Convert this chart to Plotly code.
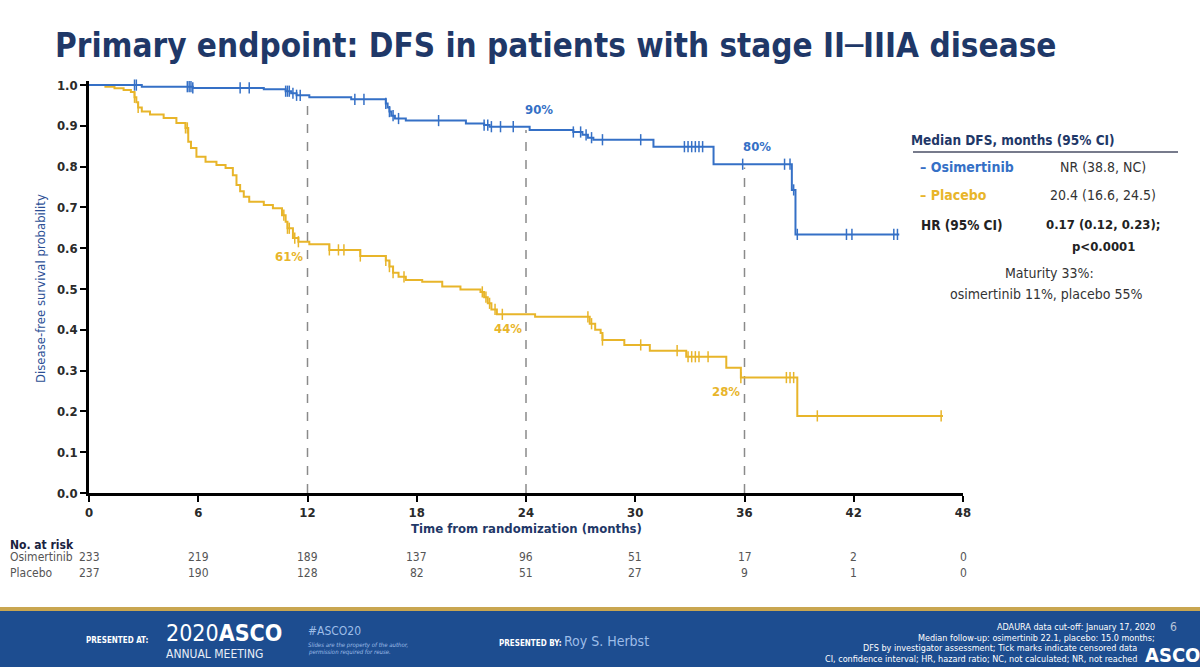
import numpy as np
import plotly.graph_objects as go

# ---------------- data ----------------
osi_event_t = [0, 2.9, 5.7, 9.6, 10.8, 11.1, 11.4, 12.1, 14.4, 16.3, 16.4, 16.5, 16.6, 16.8, 17.4,
               20.7, 21.7, 22.0, 24.2, 26.6, 27.1, 27.4, 27.7, 31.0, 34.3, 38.6, 38.8, 44.5]
osi_event_s = [1.0, 0.996, 0.993, 0.99, 0.985, 0.98, 0.975, 0.97, 0.965, 0.955, 0.945, 0.935, 0.925,
               0.918, 0.913, 0.906, 0.902, 0.898, 0.89, 0.885, 0.878, 0.871, 0.866, 0.849, 0.806,
               0.743, 0.634, 0.634]
osi_censor_t = [2.5, 2.6, 5.4, 5.5, 5.6, 5.7, 8.3, 8.8, 10.8, 10.9, 11.0, 11.2, 11.4, 11.6, 14.6, 15.1,
                16.3, 16.5, 16.7, 17.0, 19.2, 21.7, 21.9, 22.1, 22.6, 23.3, 26.6, 27.0, 27.3, 27.6,
                28.2, 30.3, 32.7, 32.9, 33.1, 33.3, 33.5, 33.7, 35.9, 38.2, 38.5, 38.7, 38.9,
                41.6, 41.9, 44.2, 44.4]

pbo_event_t = [0, 0.9, 1.4, 1.9, 2.3, 2.5, 2.6, 2.7, 2.9, 3.35, 4.1, 4.8, 5.3, 5.45, 5.6, 5.9, 6.4,
               7.0, 7.5, 7.9, 8.1, 8.3, 8.5, 8.8, 9.6, 10.1, 10.6, 10.8, 10.9, 11.2, 11.5, 12.1,
               13.2, 14.9, 16.3, 16.5, 16.7, 17.0, 17.4, 18.3, 19.4, 20.4, 21.5, 21.7, 21.9,
               22.1, 22.4, 24.5, 27.5, 27.8, 28.1, 28.2, 29.4, 30.8, 32.8, 35.0, 35.8, 38.9, 46.9]
pbo_event_s = [1.0, 0.996, 0.992, 0.988, 0.983, 0.97, 0.958, 0.945, 0.935, 0.928, 0.919, 0.907,
               0.895, 0.861, 0.846, 0.824, 0.812, 0.804, 0.797, 0.779, 0.755, 0.74, 0.726, 0.714,
               0.706, 0.698, 0.681, 0.665, 0.649, 0.625, 0.616, 0.61, 0.596, 0.581, 0.57, 0.555,
               0.54, 0.53, 0.522, 0.518, 0.506, 0.499, 0.493, 0.48, 0.465, 0.45, 0.438, 0.432,
               0.415, 0.4, 0.392, 0.375, 0.363, 0.349, 0.334, 0.307, 0.283, 0.189, 0.189]
pbo_censor_t = [2.5, 2.7, 5.3, 5.4, 10.7, 10.9, 11.0, 11.3, 11.5, 13.2, 13.7, 14.0, 14.9, 16.3, 16.5,
                16.7, 17.3, 21.6, 21.8, 22.0, 22.3, 22.7, 27.4, 27.6, 28.2, 30.3, 32.3, 32.9,
                33.1, 33.3, 33.5, 34.0, 35.8, 38.3, 38.5, 38.7, 40.0, 46.8]

landmarks = [12, 24, 36]
osi_pct = [97, 90, 80]
pbo_pct = [61, 44, 28]

risk_times = [0, 6, 12, 18, 24, 30, 36, 42, 48]
osi_risk = [233, 219, 189, 137, 96, 51, 17, 2, 0]
pbo_risk = [237, 190, 128, 82, 51, 27, 9, 1, 0]

# ---------------- style ----------------
BLUE = "#3570c6"
GOLD = "#e8b52a"
NAVY = "#1f3868"
FONT = "DejaVu Sans Condensed, Liberation Sans, Arial, sans-serif"

W, H = 1200, 667
L, R, T, B = 89, 237, 81, 174
PW, PH = W - L - R, H - T - B


def px(X):
    return (X - L) / PW


def py(Y):
    return (H - B - Y) / PH


def step_val(ts, ss, t):
    i = np.searchsorted(np.asarray(ts), t, side="right") - 1
    return ss[max(i, 0)]


fig = go.Figure()

# dashed landmark lines
for lm in landmarks:
    fig.add_trace(go.Scatter(x=[lm, lm], y=[0, step_val(osi_event_t, osi_event_s, lm) - 0.008],
                             mode="lines", line=dict(color="#8a8a8a", width=1.5, dash="dash"),
                             hoverinfo="skip", showlegend=False))

for ts, ss, ct, col, name in [(pbo_event_t, pbo_event_s, pbo_censor_t, GOLD, "Placebo"),
                              (osi_event_t, osi_event_s, osi_censor_t, BLUE, "Osimertinib")]:
    fig.add_trace(go.Scatter(x=ts, y=ss, mode="lines", line=dict(color=col, width=2, shape="hv"),
                             name=name, showlegend=False))
    fig.add_trace(go.Scatter(x=ct, y=[step_val(ts, ss, t) for t in ct], mode="markers",
                             marker=dict(symbol="line-ns", size=8, line=dict(color=col, width=1.5)),
                             showlegend=False, hoverinfo="skip", cliponaxis=False))

ann = []
# percentage labels
for lm, p in zip(landmarks, osi_pct):
    ann.append(dict(x=lm + 0.7, y=step_val(osi_event_t, osi_event_s, lm) + 0.043, xref="x", yref="y",
                    text=f"<b>{p}%</b>", showarrow=False, xanchor="center", yanchor="middle",
                    font=dict(color=BLUE, size=13)))
for lm, p in zip(landmarks, pbo_pct):
    ann.append(dict(x=lm - 1.0, y=step_val(pbo_event_t, pbo_event_s, lm) - 0.035, xref="x", yref="y",
                    text=f"<b>{p}%</b>", showarrow=False, xanchor="center", yanchor="middle",
                    font=dict(color=GOLD, size=13)))


def add_text(X, Y, text, size=15, color="#333333", anchor="left", angle=0):
    ann.append(dict(x=px(X), y=py(Y), xref="paper", yref="paper", showarrow=False, textangle=angle,
                    xanchor=anchor, yanchor="middle", text=text, font=dict(size=size, color=color)))


# title
add_text(556, 45, "<b>Primary endpoint: DFS in patients with stage II\u2500IIIA disease</b>", 33, NAVY, "center")

# axis titles
add_text(526, 528, "<b>Time from randomization (months)</b>", 13, NAVY, "center")
add_text(40, 289, "Disease-free survival probability", 13, "#2c4f95", "center", -90)

# at-risk table
add_text(8, 545, "<b>No. at risk</b>", 12, "#1a2240")
for label, vals, yy in [("Osimertinib", osi_risk, 557), ("Placebo", pbo_risk, 573)]:
    add_text(8, yy, label, 12, "#555555")
    for t, v in zip(risk_times, vals):
        ann.append(dict(x=t, y=py(yy), xref="x", yref="paper", showarrow=False, xanchor="center",
                        yanchor="middle", text=str(v), font=dict(size=12, color="#555555")))

# median table
add_text(1013, 140, "<b>Median DFS, months (95% CI)</b>", 13.5, NAVY, "center")
add_text(918, 167, "<b>\u2013 Osimertinib</b>", 14, BLUE)
add_text(1103, 167, "NR (38.8, NC)", 14, "#333333", "center")
add_text(918, 195, "<b>\u2013 Placebo</b>", 14, GOLD)
add_text(1103, 195, "20.4 (16.6, 24.5)", 14, "#333333", "center")
add_text(919, 225, "<b>HR (95% CI)</b>", 13.5, "#222222")
add_text(1103, 225, "<b>0.17 (0.12, 0.23);</b>", 13, "#222222", "center")
add_text(1103, 246, "<b>p&lt;0.0001</b>", 13, "#222222", "center")
add_text(1049, 273, "Maturity 33%:", 14, "#333333", "center")
add_text(1046, 294, "osimertinib 11%, placebo 55%", 14, "#333333", "center")

# footer texts
add_text(84, 640, "<b>PRESENTED AT:</b>", 8, "white")
add_text(164, 633, "2020<b>ASCO</b>", 23, "white")
add_text(164, 654, "ANNUAL MEETING", 12, "#e8eef8")
add_text(306, 631, "#ASCO20", 12, "#9dbde8")
add_text(306, 645, "<i>Slides are the property of the author,</i>", 6, "#9dbde8")
add_text(306, 652, "<i>permission required for reuse.</i>", 6, "#9dbde8")
add_text(497, 641, "<b>PRESENTED BY:</b> <span style='color:#9dbde8;font-size:14px'>Roy S. Herbst</span>", 8, "white")
foot_lines = ["ADAURA data cut-off: January 17, 2020",
              "Median follow-up: osimertinib 22.1, placebo: 15.0 months;",
              "DFS by investigator assessment; Tick marks indicate censored data",
              "CI, confidence interval; HR, hazard ratio; NC, not calculated; NR, not reached"]
for i, line in enumerate(foot_lines):
    add_text(1157 if i < 2 else 1139, 627 + 10.5 * i, line, 9, "white", "right")
add_text(1173, 627, "6", 12, "#b8c4d8", "center")
add_text(1143, 655, "<b>ASCO</b>", 20, "white")

shapes = [
    dict(type="rect", xref="paper", yref="paper", x0=px(0), x1=px(W), y0=py(611), y1=py(H + 2),
         fillcolor="#1d4d90", line=dict(width=0), layer="below"),
    dict(type="rect", xref="paper", yref="paper", x0=px(0), x1=px(W), y0=py(607), y1=py(611),
         fillcolor="#c9a650", line=dict(width=0), layer="below"),
    dict(type="line", xref="paper", yref="paper", x0=px(913), x1=px(1178), y0=py(152), y1=py(152),
         line=dict(color="#4a4f66", width=1.5)),
]

fig.update_layout(
    width=W, height=H, margin=dict(l=L, r=R, t=T, b=B),
    paper_bgcolor="white", plot_bgcolor="white",
    font=dict(family=FONT, color="#333333"),
    annotations=ann, shapes=shapes, showlegend=False,
    xaxis=dict(range=[0, 48], tickvals=risk_times, showgrid=False, zeroline=False,
               showline=True, linecolor="black", linewidth=2.5, ticks="outside", ticklen=6,
               tickwidth=2, tickcolor="black",
               tickfont=dict(size=13, color="#2a2a2a", weight="bold", family=FONT)),
    yaxis=dict(range=[0, 1.01], tickvals=[i / 10 for i in range(11)], tickformat=".1f",
               showgrid=False, zeroline=False, showline=True, linecolor="black", linewidth=2.5,
               ticks="outside", ticklen=6, tickwidth=2, tickcolor="black",
               tickfont=dict(size=13, color="#2a2a2a", weight="bold", family=FONT)),
)

fig.write_html("out.html", config={"displayModeBar": False},
               post_script="document.body.style.margin='0';document.body.style.overflow='hidden';")
